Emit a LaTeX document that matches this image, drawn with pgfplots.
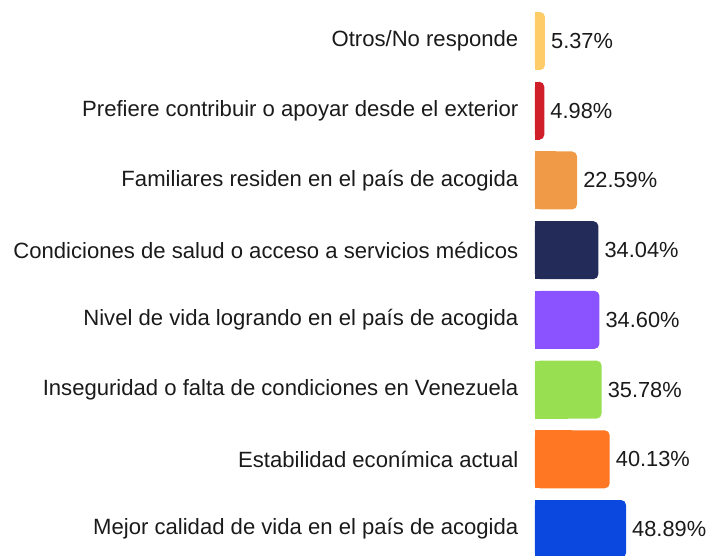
\documentclass[border=0pt]{standalone}
\usepackage{pgfplots}
\pgfplotsset{compat=1.18}
\usepackage{fontspec}
\setmainfont{Liberation Sans}
\definecolor{c0}{HTML}{FFCC6A}
\definecolor{c1}{HTML}{D11F2A}
\definecolor{c2}{HTML}{F09A48}
\definecolor{c3}{HTML}{232B58}
\definecolor{c4}{HTML}{8B52FF}
\definecolor{c5}{HTML}{98E052}
\definecolor{c6}{HTML}{FF7722}
\definecolor{c7}{HTML}{0A48E0}
\definecolor{txt}{HTML}{1A1A1A}
\pgfplotsset{
  rbar/.style={rounded corners=5pt,
    nodes near coords={\pgfmathprintnumber[fixed,fixed zerofill,precision=2]{\pgfplotspointmeta}\%}},
  sbar/.style={x filter/.expression={x/2}},
}
\begin{document}
\begin{tikzpicture}
\path[use as bounding box] (-535pt,0pt) rectangle (173pt,555pt);
\begin{axis}[
  at={(0pt,0pt)}, anchor=south west,
  scale only axis,
  x=1.862pt, y=69.71pt,
  y dir=reverse,
  xmin=0, xmax=92.9,
  ymin=-0.588, ymax=7.373,
  axis x line=none,
  axis y line*=left,
  y axis line style={draw=none},
  ytick style={draw=none},
  major tick length=0pt,
  clip=false,
  xbar, bar width=58pt, bar shift=0pt,
  ytick={0,...,7},
  yticklabels={Otros/No responde,
    Prefiere contribuir o apoyar desde el exterior,
    Familiares residen en el país de acogida,
    Condiciones de salud o acceso a servicios médicos,
    Nivel de vida logrando en el país de acogida,
    Inseguridad o falta de condiciones en Venezuela,
    Estabilidad econímica actual,
    Mejor calidad de vida en el país de acogida},
  yticklabel style={anchor=east, inner sep=0pt, xshift=-16.5pt, text=txt, font=\fontsize{22.1}{26}\selectfont},
  every axis plot/.append style={draw=none},
  /pgf/number format/assume math mode=true,
  nodes near coords style={anchor=west, inner sep=0pt, xshift=6pt, text=txt, font=\fontsize{21.8}{26}\selectfont},
]
\addplot[fill=c0, rbar] coordinates {(5.37,0)};
\addplot[fill=c1, rbar] coordinates {(4.98,1)};
\addplot[fill=c2, rbar] coordinates {(22.59,2)};
\addplot[fill=c3, rbar] coordinates {(34.04,3)};
\addplot[fill=c4, rbar] coordinates {(34.60,4)};
\addplot[fill=c5, rbar] coordinates {(35.78,5)};
\addplot[fill=c6, rbar] coordinates {(40.13,6)};
\addplot[fill=c7, rbar] coordinates {(48.89,7)};
% square left halves (hide the left rounding)
\addplot[fill=c0, sbar] coordinates {(5.37,0)};
\addplot[fill=c1, sbar] coordinates {(4.98,1)};
\addplot[fill=c2, sbar] coordinates {(22.59,2)};
\addplot[fill=c3, sbar] coordinates {(34.04,3)};
\addplot[fill=c4, sbar] coordinates {(34.60,4)};
\addplot[fill=c5, sbar] coordinates {(35.78,5)};
\addplot[fill=c6, sbar] coordinates {(40.13,6)};
\addplot[fill=c7, sbar] coordinates {(48.89,7)};
\end{axis}
\end{tikzpicture}
\end{document}
